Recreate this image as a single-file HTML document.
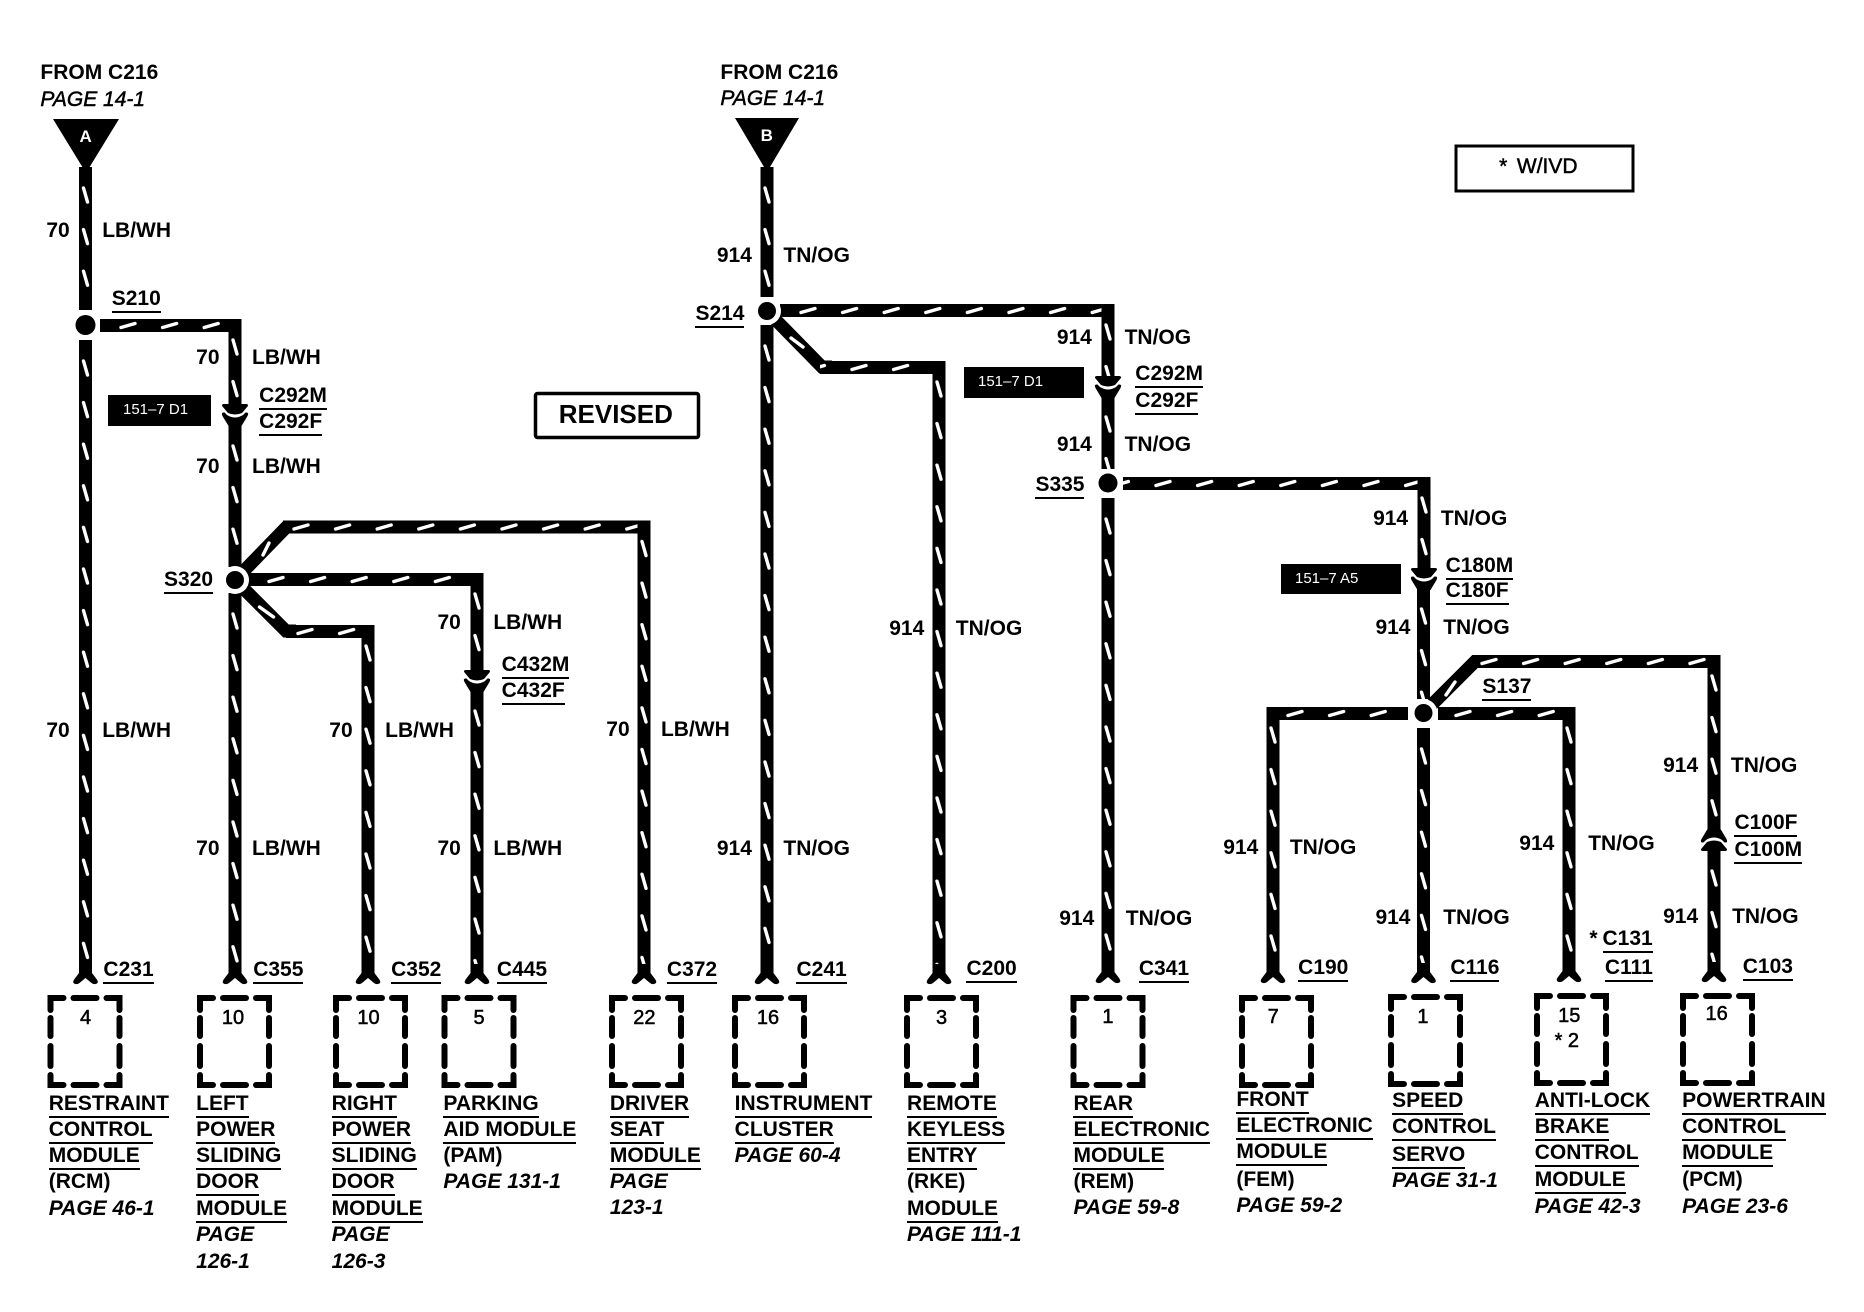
<!DOCTYPE html>
<html lang="en">
<head>
<meta charset="utf-8">
<title>Wiring diagram</title>
<style>
html,body{margin:0;padding:0;background:#fff}
#c{position:relative;width:1864px;height:1312px;overflow:hidden;background:#fff}
svg{position:absolute;left:0;top:0}
.t{position:absolute;left:calc(var(--x)*1.1888px);top:calc(var(--y)*1.1888px - 11.7px);font:bold 21px/24px "Liberation Sans",sans-serif;white-space:nowrap;color:#000}
.u{border-bottom:2px solid #000;height:24px}
.m{font-size:21px}
.i{font-style:italic}
.l{font-weight:normal;-webkit-text-stroke:.5px #000}
.n{font-weight:normal;-webkit-text-stroke:.5px #000;transform:translateX(-50%);font-size:20px}
.w{position:absolute;color:#fff;font:15px/18px "Liberation Sans",sans-serif;white-space:nowrap}
.v{fill:url(#v)}
.h{fill:url(#h)}
.d{stroke:#fff;stroke-width:3.4;stroke-linecap:round}
.g{stroke:#000;stroke-width:13;fill:none;stroke-linejoin:miter}
</style>
</head>
<body>
<div id="c">
<svg width="1864" height="1312" viewBox="0 0 1864 1312">
<defs>
<pattern id="v" patternUnits="userSpaceOnUse" x="0" y="0" width="13" height="41.6"><rect width="13" height="41.6" fill="#000"/><line x1="4.5" y1="21" x2="8.5" y2="35" stroke="#fff" stroke-width="3.4" stroke-linecap="round"/></pattern>
<pattern id="h" patternUnits="userSpaceOnUse" x="0" y="0" width="41.6" height="13"><rect width="41.6" height="13" fill="#000"/><line x1="21" y1="8.5" x2="35" y2="4.5" stroke="#fff" stroke-width="3.4" stroke-linecap="round"/></pattern>
<path id="f" d="M-6.5,-20L-6.5,-11L-11,-5Q-14,-1 -10,0Q-8,.5 -6,-1L0,-6L6,-1Q8,.5 10,0Q14,-1 11,-5L6.5,-11L6.5,-20Z" fill="#000"/>
<g id="k" fill="#000">
<path d="M-11.5,0Q-14,.5 -12.5,2.5L-7,9Q0,12 7,9L12.5,2.5Q14,.5 11.5,0Z"/>
<path d="M-12.5,12Q-14.5,8 -10.5,8.5L-8,11Q0,16 8,11L10.5,8.5Q14.5,8 12.5,12L6.5,22H-6.5Z"/>
</g>
<g id="b" fill="none" stroke="#000" stroke-width="6" stroke-linecap="round" stroke-linejoin="miter">
<path d="M3,15V3H16"/><path d="M26,3H49"/><path d="M59,3H72V15"/>
<path d="M3,23V41"/><path d="M3,51V71"/><path d="M72,23V41"/><path d="M72,51V71"/>
<path d="M3,80V90H16"/><path d="M26,90H49"/><path d="M59,90H72V80"/>
</g>
</defs>

<!-- triangles -->
<path d="M53,119H119L89,168H83Z" fill="#000"/>
<path d="M735,118H799L770,167H764Z" fill="#000"/>

<!-- wire A -->
<rect class="v" transform="translate(79,167)" width="13" height="143"/>
<rect class="v" transform="translate(79,340)" width="13" height="632"/>
<rect class="h" transform="translate(100,319)" width="141.5" height="13"/>
<rect class="v" transform="translate(228.5,319)" width="13" height="85"/>
<rect class="v" transform="translate(228.5,425)" width="13" height="142"/>
<rect class="v" transform="translate(228.5,593)" width="13" height="379"/>

<!-- S320 branches -->
<path class="g" d="M235,580L286.5,527H296"/>
<line class="d" x1="263" y1="555" x2="269" y2="543"/>
<rect class="h" transform="translate(273,520.5)" x="10" width="367.5" height="13"/>
<rect class="v" transform="translate(637.5,520.5)" width="13" height="452"/>
<rect class="h" transform="translate(248,573)" width="234.7" height="13"/>
<rect class="v" transform="translate(470.5,573)" width="13" height="97"/>
<rect class="v" transform="translate(470.5,690)" width="13" height="282"/>
<path class="g" d="M235,580L286,631H296"/>
<line class="d" x1="259.5" y1="607" x2="273.5" y2="617"/>
<rect class="h" transform="translate(277,625)" x="9" width="88.5" height="13"/>
<rect class="v" transform="translate(361.5,625)" width="13" height="347"/>

<!-- wire B -->
<rect class="v" transform="translate(760.5,167)" width="13" height="130"/>
<rect class="v" transform="translate(760.5,325)" width="13" height="647"/>
<rect class="h" transform="translate(780,304)" width="334" height="13"/>
<path class="g" d="M767,311L822,367H832"/>
<line class="d" x1="791" y1="338" x2="803" y2="347"/>
<rect class="h" transform="translate(831,361)" x="-11" width="114" height="13"/>
<rect class="v" transform="translate(932.5,361)" width="13" height="611"/>
<rect class="v" transform="translate(1101.5,304)" width="13" height="72"/>
<rect class="v" transform="translate(1101.5,396)" width="13" height="73"/>
<rect class="v" transform="translate(1101.5,498)" width="13" height="474"/>
<rect class="h" transform="translate(1135,477)" x="-12" width="307.5" height="13"/>
<rect class="v" transform="translate(1417.5,477)" width="13" height="91"/>
<rect class="v" transform="translate(1417,588)" width="13" height="111"/>
<rect class="v" transform="translate(1417,728)" width="13" height="244"/>

<!-- S137 branches -->
<rect class="h" transform="translate(1267,707)" width="141" height="13"/>
<rect class="v" transform="translate(1266.5,707)" width="13" height="265"/>
<rect class="h" transform="translate(1435,707)" x="3" width="137" height="13"/>
<rect class="v" transform="translate(1562.5,707)" width="13" height="265"/>
<path class="g" d="M1423.5,713L1475,661.5H1485"/>
<line class="d" x1="1446" y1="695" x2="1455" y2="682"/>
<rect class="h" transform="translate(1461,655)" x="13" width="246" height="13"/>
<rect class="v" transform="translate(1707.5,655)" width="13" height="175"/>
<rect class="v" transform="translate(1707.5,850)" width="13" height="122"/>

<!-- splices -->
<circle cx="85.5" cy="325" r="10" fill="#000"/>
<circle cx="235" cy="580" r="14" fill="#fff"/><circle cx="235" cy="580" r="9" fill="#000"/>
<circle cx="767" cy="311" r="14" fill="#fff"/><circle cx="767" cy="311" r="9" fill="#000"/>
<circle cx="1108" cy="483" r="9.5" fill="#000"/>
<circle cx="1423.5" cy="713" r="14" fill="#fff"/><circle cx="1423.5" cy="713" r="9" fill="#000"/>

<!-- inline connectors -->
<use href="#k" transform="translate(235,404)"/>
<use href="#k" transform="translate(477,670)"/>
<use href="#k" transform="translate(1108,376)"/>
<use href="#k" transform="translate(1424,568)"/>
<use href="#k" transform="translate(1714,851) scale(1,-1)"/>

<!-- end forks -->
<use href="#f" transform="translate(85.5,984)"/>
<use href="#f" transform="translate(235,984)"/>
<use href="#f" transform="translate(368,984)"/>
<use href="#f" transform="translate(477,984)"/>
<use href="#f" transform="translate(644,984)"/>
<use href="#f" transform="translate(767,984)"/>
<use href="#f" transform="translate(939,984)"/>
<use href="#f" transform="translate(1108,983)"/>
<use href="#f" transform="translate(1273,983)"/>
<use href="#f" transform="translate(1423.5,983)"/>
<use href="#f" transform="translate(1569,982)"/>
<use href="#f" transform="translate(1714,982)"/>

<!-- module boxes -->
<use href="#b" transform="translate(47.5,995)"/>
<use href="#b" transform="translate(197,995)"/>
<use href="#b" transform="translate(333,995)"/>
<use href="#b" transform="translate(441.5,995)"/>
<use href="#b" transform="translate(609,995)"/>
<use href="#b" transform="translate(732,995)"/>
<use href="#b" transform="translate(904,995)"/>
<use href="#b" transform="translate(1070.5,995)"/>
<use href="#b" transform="translate(1239,995)"/>
<use href="#b" transform="translate(1388,994)"/>
<use href="#b" transform="translate(1534,993)"/>
<use href="#b" transform="translate(1680,993)"/>

<!-- label boxes -->
<rect x="108" y="395" width="103" height="31" fill="#000"/>
<rect x="964" y="367" width="120" height="31" fill="#000"/>
<rect x="1281" y="564" width="120" height="30" fill="#000"/>
<rect x="535.5" y="393.5" width="163" height="44" rx="2" fill="none" stroke="#000" stroke-width="3.5"/>
<rect x="1456" y="146" width="177" height="45" fill="none" stroke="#000" stroke-width="3"/>
</svg>

<div class="w" style="left:123px;top:401px">151–7 D1</div>
<div class="w" style="left:978px;top:373px">151–7 D1</div>
<div class="w" style="left:1295px;top:570px">151–7 A5</div>
<div class="t" style="--x:72;--y:115;transform:translateX(-50%);color:#fff;font-size:17px">A</div>
<div class="t" style="--x:645;--y:114;transform:translateX(-50%);color:#fff;font-size:17px">B</div>

<div class="t" style="--x:34;--y:61">FROM C216</div>
<div class="t i l" style="--x:34;--y:84">PAGE 14-1</div>
<div class="t" style="--x:606;--y:61">FROM C216</div>
<div class="t i l" style="--x:606;--y:83">PAGE 14-1</div>
<div class="t" style="--x:470;--y:348;font-size:26px;line-height:24px">REVISED</div>
<div class="t l" style="--x:1261;--y:140">*</div>
<div class="t l" style="--x:1276;--y:140">W/IVD</div>

<div class="t" style="--x:39;--y:194">70</div><div class="t" style="--x:86;--y:194">LB/WH</div>
<div class="t u" style="--x:94;--y:251">S210</div>
<div class="t" style="--x:165;--y:301">70</div><div class="t" style="--x:212;--y:301">LB/WH</div>
<div class="t u" style="--x:218;--y:333">C292M</div><div class="t u" style="--x:218;--y:355">C292F</div>
<div class="t" style="--x:165;--y:393">70</div><div class="t" style="--x:212;--y:393">LB/WH</div>
<div class="t u" style="--x:138;--y:488">S320</div>
<div class="t" style="--x:39;--y:615">70</div><div class="t" style="--x:86;--y:615">LB/WH</div>
<div class="t" style="--x:165;--y:714">70</div><div class="t" style="--x:212;--y:714">LB/WH</div>
<div class="t" style="--x:277;--y:615">70</div><div class="t" style="--x:324;--y:615">LB/WH</div>
<div class="t" style="--x:368;--y:524">70</div><div class="t" style="--x:415;--y:524">LB/WH</div>
<div class="t u" style="--x:422;--y:559">C432M</div><div class="t u" style="--x:422;--y:581">C432F</div>
<div class="t" style="--x:368;--y:714">70</div><div class="t" style="--x:415;--y:714">LB/WH</div>
<div class="t" style="--x:510;--y:614">70</div><div class="t" style="--x:556;--y:614">LB/WH</div>

<div class="t" style="--x:603;--y:215">914</div><div class="t" style="--x:659;--y:215">TN/OG</div>
<div class="t u" style="--x:585;--y:264">S214</div>
<div class="t" style="--x:889;--y:284">914</div><div class="t" style="--x:946;--y:284">TN/OG</div>
<div class="t u" style="--x:955;--y:314">C292M</div><div class="t u" style="--x:955;--y:337">C292F</div>
<div class="t" style="--x:889;--y:374">914</div><div class="t" style="--x:946;--y:374">TN/OG</div>
<div class="t u" style="--x:871;--y:408">S335</div>
<div class="t" style="--x:1155;--y:436">914</div><div class="t" style="--x:1212;--y:436">TN/OG</div>
<div class="t u" style="--x:1216;--y:476">C180M</div><div class="t u" style="--x:1216;--y:497">C180F</div>
<div class="t" style="--x:1157;--y:528">914</div><div class="t" style="--x:1214;--y:528">TN/OG</div>
<div class="t u" style="--x:1247;--y:578">S137</div>
<div class="t" style="--x:748;--y:529">914</div><div class="t" style="--x:804;--y:529">TN/OG</div>
<div class="t" style="--x:603;--y:714">914</div><div class="t" style="--x:659;--y:714">TN/OG</div>
<div class="t" style="--x:891;--y:773">914</div><div class="t" style="--x:947;--y:773">TN/OG</div>
<div class="t" style="--x:1029;--y:713">914</div><div class="t" style="--x:1085;--y:713">TN/OG</div>
<div class="t" style="--x:1157;--y:772">914</div><div class="t" style="--x:1214;--y:772">TN/OG</div>
<div class="t" style="--x:1278;--y:710">914</div><div class="t" style="--x:1336;--y:710">TN/OG</div>
<div class="t" style="--x:1399;--y:644">914</div><div class="t" style="--x:1456;--y:644">TN/OG</div>
<div class="t u" style="--x:1459;--y:692">C100F</div><div class="t u" style="--x:1459;--y:715">C100M</div>
<div class="t" style="--x:1399;--y:771">914</div><div class="t" style="--x:1457;--y:771">TN/OG</div>

<div class="t u" style="--x:87;--y:816">C231</div>
<div class="t u" style="--x:213;--y:816">C355</div>
<div class="t u" style="--x:329;--y:816">C352</div>
<div class="t u" style="--x:418;--y:816">C445</div>
<div class="t u" style="--x:561;--y:816">C372</div>
<div class="t u" style="--x:670;--y:816">C241</div>
<div class="t u" style="--x:813;--y:815">C200</div>
<div class="t u" style="--x:958;--y:815">C341</div>
<div class="t u" style="--x:1092;--y:814">C190</div>
<div class="t u" style="--x:1220;--y:814">C116</div>
<div class="t" style="--x:1337;--y:790">*</div>
<div class="t u" style="--x:1348;--y:790">C131</div>
<div class="t u" style="--x:1350;--y:814">C111</div>
<div class="t u" style="--x:1466;--y:813">C103</div>

<div class="t n" style="--x:72;--y:856">4</div>
<div class="t n" style="--x:196;--y:856">10</div>
<div class="t n" style="--x:310;--y:856">10</div>
<div class="t n" style="--x:403;--y:856">5</div>
<div class="t n" style="--x:542;--y:856">22</div>
<div class="t n" style="--x:646;--y:856">16</div>
<div class="t n" style="--x:792;--y:856">3</div>
<div class="t n" style="--x:932;--y:855">1</div>
<div class="t n" style="--x:1071;--y:855">7</div>
<div class="t n" style="--x:1197;--y:855">1</div>
<div class="t n" style="--x:1320;--y:854">15</div>
<div class="t n" style="--x:1318;--y:875">* 2</div>
<div class="t n" style="--x:1444;--y:853">16</div>

<div class="t m u" style="--x:41;--y:928">RESTRAINT</div>
<div class="t m u" style="--x:41;--y:950">CONTROL</div>
<div class="t m u" style="--x:41;--y:972">MODULE</div>
<div class="t m" style="--x:41;--y:994">(RCM)</div>
<div class="t m i" style="--x:41;--y:1017">PAGE 46-1</div>

<div class="t m u" style="--x:165;--y:928">LEFT</div>
<div class="t m u" style="--x:165;--y:950">POWER</div>
<div class="t m u" style="--x:165;--y:972">SLIDING</div>
<div class="t m u" style="--x:165;--y:994">DOOR</div>
<div class="t m u" style="--x:165;--y:1017">MODULE</div>
<div class="t m i" style="--x:165;--y:1039">PAGE</div>
<div class="t m i" style="--x:165;--y:1061">126-1</div>

<div class="t m u" style="--x:279;--y:928">RIGHT</div>
<div class="t m u" style="--x:279;--y:950">POWER</div>
<div class="t m u" style="--x:279;--y:972">SLIDING</div>
<div class="t m u" style="--x:279;--y:994">DOOR</div>
<div class="t m u" style="--x:279;--y:1017">MODULE</div>
<div class="t m i" style="--x:279;--y:1039">PAGE</div>
<div class="t m i" style="--x:279;--y:1061">126-3</div>

<div class="t m u" style="--x:373;--y:928">PARKING</div>
<div class="t m u" style="--x:373;--y:950">AID MODULE</div>
<div class="t m" style="--x:373;--y:972">(PAM)</div>
<div class="t m i" style="--x:373;--y:994">PAGE 131-1</div>

<div class="t m u" style="--x:513;--y:928">DRIVER</div>
<div class="t m u" style="--x:513;--y:950">SEAT</div>
<div class="t m u" style="--x:513;--y:972">MODULE</div>
<div class="t m i" style="--x:513;--y:994">PAGE</div>
<div class="t m i" style="--x:513;--y:1016">123-1</div>

<div class="t m u" style="--x:618;--y:928">INSTRUMENT</div>
<div class="t m u" style="--x:618;--y:950">CLUSTER</div>
<div class="t m i" style="--x:618;--y:972">PAGE 60-4</div>

<div class="t m u" style="--x:763;--y:928">REMOTE</div>
<div class="t m u" style="--x:763;--y:950">KEYLESS</div>
<div class="t m u" style="--x:763;--y:972">ENTRY</div>
<div class="t m" style="--x:763;--y:994">(RKE)</div>
<div class="t m u" style="--x:763;--y:1017">MODULE</div>
<div class="t m i" style="--x:763;--y:1039">PAGE 111-1</div>

<div class="t m u" style="--x:903;--y:928">REAR</div>
<div class="t m u" style="--x:903;--y:950">ELECTRONIC</div>
<div class="t m u" style="--x:903;--y:972">MODULE</div>
<div class="t m" style="--x:903;--y:994">(REM)</div>
<div class="t m i" style="--x:903;--y:1016">PAGE 59-8</div>

<div class="t m u" style="--x:1040;--y:925">FRONT</div>
<div class="t m u" style="--x:1040;--y:947">ELECTRONIC</div>
<div class="t m u" style="--x:1040;--y:969">MODULE</div>
<div class="t m" style="--x:1040;--y:992">(FEM)</div>
<div class="t m i" style="--x:1040;--y:1014">PAGE 59-2</div>

<div class="t m u" style="--x:1171;--y:926">SPEED</div>
<div class="t m u" style="--x:1171;--y:948">CONTROL</div>
<div class="t m u" style="--x:1171;--y:971">SERVO</div>
<div class="t m i" style="--x:1171;--y:993">PAGE 31-1</div>

<div class="t m u" style="--x:1291;--y:926">ANTI-LOCK</div>
<div class="t m u" style="--x:1291;--y:948">BRAKE</div>
<div class="t m u" style="--x:1291;--y:970">CONTROL</div>
<div class="t m u" style="--x:1291;--y:992">MODULE</div>
<div class="t m i" style="--x:1291;--y:1015">PAGE 42-3</div>

<div class="t m u" style="--x:1415;--y:926">POWERTRAIN</div>
<div class="t m u" style="--x:1415;--y:948">CONTROL</div>
<div class="t m u" style="--x:1415;--y:970">MODULE</div>
<div class="t m" style="--x:1415;--y:992">(PCM)</div>
<div class="t m i" style="--x:1415;--y:1015">PAGE 23-6</div>
</div>
</body>
</html>
